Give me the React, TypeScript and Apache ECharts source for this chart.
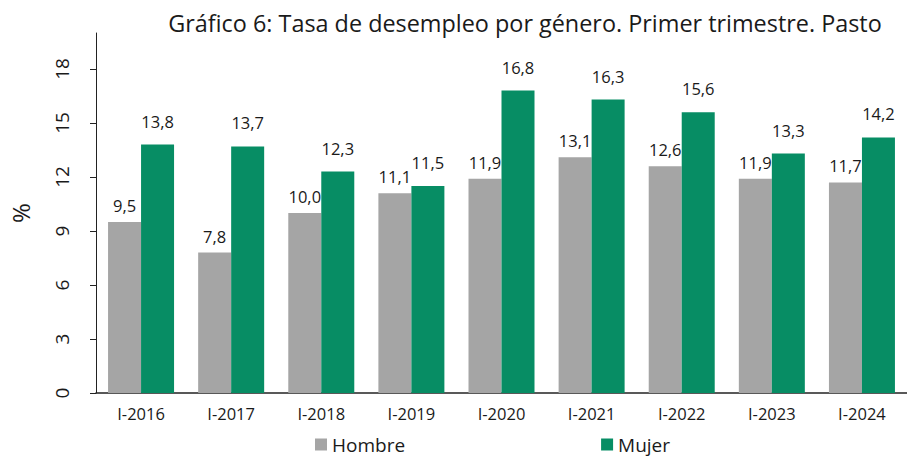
import React, { useEffect, useRef } from "react";
import * as echarts from "echarts";

const categories = ["I-2016", "I-2017", "I-2018", "I-2019", "I-2020", "I-2021", "I-2022", "I-2023", "I-2024"];
const hombre = [9.5, 7.8, 10.0, 11.1, 11.9, 13.1, 12.6, 11.9, 11.7];
const mujer = [13.8, 13.7, 12.3, 11.5, 16.8, 16.3, 15.6, 13.3, 14.2];
const yTicks = [0, 3, 6, 9, 12, 15, 18];
const title = "Gráfico 6: Tasa de desempleo por género. Primer trimestre. Pasto";

const FONT = "'Open Sans', 'Noto Sans', sans-serif";
const TEXT = "#1a1a1a";
const fmt = (v: number) => v.toFixed(1).replace(".", ",");

export default function App() {
  const ref = useRef<HTMLDivElement>(null);
  useEffect(() => {
    if (!ref.current) return;
    const chart = echarts.init(ref.current, undefined, { renderer: "svg" });
    chart.setOption({
      animation: false,
      textStyle: { fontFamily: FONT },
      title: {
        text: title,
        left: 520,
        textAlign: "center",
        top: 6,
        textStyle: { fontFamily: FONT, fontSize: 23.4, fontWeight: "normal", color: TEXT },
      },
      legend: {
        top: 430,
        left: 310,
        itemGap: 196,
        itemWidth: 12,
        itemHeight: 12,
        icon: "rect",
        textStyle: { fontFamily: FONT, fontSize: 19, color: TEXT },
        data: ["Hombre", "Mujer"],
      },
      grid: { left: 89, right: -10, top: 33, bottom: 65, containLabel: false },
      xAxis: {
        type: "category",
        data: categories,
        axisLine: { lineStyle: { color: "#222", width: 1.5 } },
        axisTick: { show: false },
        axisLabel: { fontFamily: FONT, fontSize: 16.5, color: TEXT, margin: 12 },
      },
      yAxis: {
        type: "value",
        min: 0,
        max: 20,
        interval: 3,
        name: "%",
        nameLocation: "middle",
        nameGap: 64,
        nameRotate: 90,
        nameTextStyle: { fontFamily: FONT, fontSize: 24, color: TEXT },
        splitLine: { show: false },
        axisLine: { show: true, lineStyle: { color: "#222", width: 1 } },
        axisTick: { show: true, length: 6, inside: false, customValues: yTicks, lineStyle: { color: "#222" } },
        axisLabel: {
          fontFamily: FONT,
          fontSize: 19,
          color: TEXT,
          rotate: 90,
          margin: 25,
          customValues: yTicks,
        },
      },
      series: [
        {
          name: "Hombre",
          type: "bar",
          data: hombre,
          barWidth: 33,
          barGap: "0%",
          itemStyle: { color: "#A5A5A5" },
          label: {
            show: true,
            position: "top",
            distance: 8,
            formatter: (p: any) => fmt(p.value),
            fontFamily: FONT,
            fontSize: 16.5,
            color: TEXT,
          },
        },
        {
          name: "Mujer",
          type: "bar",
          data: mujer,
          barWidth: 33,
          barGap: "0%",
          itemStyle: { color: "#078D64" },
          label: {
            show: true,
            position: "top",
            distance: 15,
            formatter: (p: any) => fmt(p.value),
            fontFamily: FONT,
            fontSize: 16.5,
            color: TEXT,
          },
        },
      ],
    });
    return () => chart.dispose();
  }, []);
  return (
    <div
      ref={ref}
      style={{ position: "fixed", left: 0, top: 0, width: 907, height: 458, background: "#fff" }}
    />
  );
}
